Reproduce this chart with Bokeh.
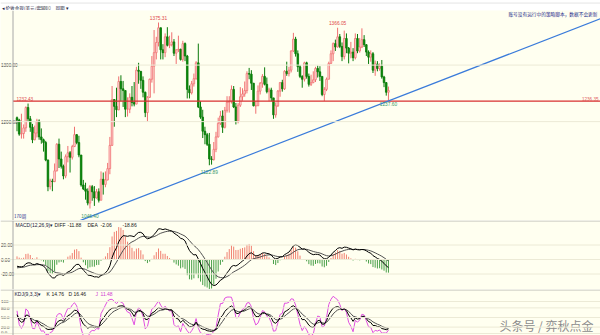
import numpy as np
from bokeh.plotting import figure
from bokeh.layouts import column
from bokeh.models import Range1d, Span, ColumnDataSource
from bokeh.core.properties import value
from bokeh.embed import file_html
from bokeh.resources import INLINE

# ---------------- data (weekly gold) ----------------
opens = [1207,1203,1178,1179,1189,1225,1205,1190,1168,1180,1201,1173,1168,1163,1132,1085,1095,1094,1113,1160,
         1134,1121,1104,1138,1145,1137,1156,1177,1163,1141,1088,1081,1077,1056,1085,1076,1065,1076,
         1061,1098,1089,1097,1117,1158,1239,1227,1221,1271,1258,1255,1222,1222,1243,1234,1231,1291,1289,1273,
         1252,1216,1243,1275,1298,1322,1340,1366,1327,1322,1350,1335,1336,1341,1321,1327,1328,1310,1338,1316,
         1257,1251,1267,1276,1304,1226,1208,1183,1177,1160,1134,1133,
         1151,1173,1197,1210,1190,1220,1234,1236,1257,1226,1201,1229,1244,1249,1255,1285,1284,1268,1228,1228,
         1254,1268,1280,1266,1253,1256,1242,1212,1228,1254,1269,1258,1289,1285,1291,1325,1346,1320,1297,1280,
         1275,1304,1280,1266,1269,1274,1294,1288,1280,1248,1257,1275,
         1303,1320,1338,1332,1350,1333,1315,1347,1330,1321,1323,1313,1347,1325,1332,1345,1336,1323,1314,1320,
         1291,1302,1294,1298,1279,1269,1252]
highs = [1209,1205,1214,1195,1227,1232,1210,1196,1193,1205,1204,1188,1170,1166,1133,1099,1099,1126,1162,1170,
         1147,1124,1142,1157,1148,1159,1191,1178,1175,1141,1097,1092,1082,1088,1088,1086,1081,1082,
         1112,1110,1112,1127,1173,1263,1240,1260,1280,1282,1272,1255,1243,1250,1263,1270,1297,1304,1289,1280,
         1253,1245,1276,1316,1362,1350,1375.31,1366,1337,1356,1367,1352,1358,1346,1328,1352,1329,1343,1340,1318,
         1264,1272,1285,1307,1338,1236,1221,1191,1180,1180,1139,1164,
         1182,1207,1219,1220,1226,1245,1245,1264,1263,1233,1233,1261,1259,1271,1289,1295,1291,1268,1236,1264,
         1270,1284,1296,1278,1260,1260,1242,1234,1256,1270,1274,1291,1306,1297,1326,1357,1350,1326,1300,1282,
         1306,1306,1285,1283,1289,1297,1299,1298,1280,1261,1278,1306,
         1326,1340,1345,1366.05,1355,1340,1361,1356,1332,1341,1330,1356,1355,1348,1365,1353,1337,1326,1326,1323,
         1308,1307,1303,1309,1281,1270,1262]
lows = [1183,1175,1170,1170,1182,1200,1182,1162,1167,1172,1168,1161,1147,1130,1077,1080,1077,1093,1112,1118,
        1117,1098,1100,1128,1110,1133,1155,1160,1137,1085,1079,1062,1052,1046.40,1060,1051,1064,1057,
        1061,1071,1084,1096,1107,1157,1191,1208,1220,1236,1226,1208,1209,1215,1227,1227,1231,1267,1258,1243,
        1208,1200,1242,1269,1250,1310,1333,1310,1310,1314,1333,1330,1333,1316,1302,1323,1308,1306,1307,1241,
        1241,1248,1262,1274,1224,1205,1171,1160,1157,1122.89,1124,1131,
        1146,1172,1194,1180,1188,1216,1216,1232,1224,1195,1197,1226,1237,1244,1250,1275,1256,1227,1214,1228,
        1248,1260,1264,1250,1236,1236,1205,1207,1226,1244,1253,1256,1281,1280,1287,1323,1315,1288,1277,1260,
        1271,1276,1262,1263,1268,1270,1278,1272,1245,1236.5,1254,1275,
        1302,1307,1325,1331,1330,1307,1310,1321,1303,1312,1307,1310,1321,1322,1330,1332,1316,1302,1306,1286,
        1281,1289,1290,1276,1261,1246,1237.60]
closes = [1203,1178,1179,1189,1225,1205,1190,1168,1180,1201,1173,1168,1163,1132,1085,1095,1094,1113,1160,1134,
          1121,1104,1138,1145,1137,1156,1177,1163,1141,1088,1081,1077,1056,1085,1076,1065,1076,1061,
          1098,1089,1097,1117,1158,1239,1227,1221,1271,1258,1255,1222,1222,1243,1234,1231,1291,1289,1273,1252,
          1216,1243,1275,1298,1322,1340,1366,1327,1322,1350,1335,1336,1341,1321,1327,1328,1310,1338,1316,1257,
          1251,1267,1276,1304,1226,1208,1183,1177,1160,1134,1133,1151,
          1173,1197,1210,1190,1220,1234,1236,1257,1226,1201,1229,1244,1249,1255,1285,1284,1268,1228,1228,1254,
          1268,1280,1266,1253,1256,1242,1212,1228,1254,1269,1258,1289,1285,1291,1325,1346,1320,1297,1280,1275,
          1304,1280,1266,1269,1274,1294,1288,1280,1248,1257,1275,1303,
          1320,1338,1332,1350,1333,1315,1347,1330,1321,1323,1313,1347,1325,1332,1345,1336,1323,1314,1320,1291,
          1302,1294,1298,1279,1269,1252,1255]

support_level = 1236.35            # red horizontal line
trend_x = [26.5, 263.9]            # blue trend line (bar index)
trend_y = [1022.0, 1382.0]         # blue trend line (price)
macd_start = [-11.0, -12.0]        # DIFF / DEA at the left edge
price_ticks = [1300, 1200]
price_tick_labels = ["1300.00", "1200.00"]
macd_ticks = [20, 0, -20]
macd_tick_labels = ["20.00", "0.00", "-20.00"]
kdj_ticks = [100, 80, 50, 20, 0]
kdj_tick_labels = ["100", "80.0", "50.0", "20.0", "0.0"]

o = np.array(opens, float); h = np.array(highs, float)
l = np.array(lows, float); c = np.array(closes, float)
n = len(c)
idx = np.arange(n)

# ---------------- indicators ----------------
def ema_series(vals, alpha, start):
    out = []; e = start
    for v in vals:
        e = alpha * v + (1 - alpha) * e
        out.append(e)
    return np.array(out)

e12 = ema_series(c, 2 / 13, c[0] + macd_start[0])
e26 = ema_series(c, 2 / 27, c[0])
diff = e12 - e26
dea = ema_series(diff, 2 / 10, macd_start[1])
hist = 2 * (diff - dea)

K = []; D = []; kk = 50.0; dd = 50.0
for i in range(n):
    lo = l[max(0, i - 8):i + 1].min(); hi = h[max(0, i - 8):i + 1].max()
    rsv = (c[i] - lo) / (hi - lo) * 100 if hi > lo else 50
    kk = 2 / 3 * kk + rsv / 3
    dd = 2 / 3 * dd + kk / 3
    K.append(kk); D.append(dd)
K = np.array(K); D = np.array(D); J = 3 * K - 2 * D

# ---------------- geometry ----------------
BG = "#FFFFF0"
X0 = 16.5
DX = 2.211
def px2x(px):
    return (px - X0) / DX
xr = Range1d(px2x(0), px2x(600))

KM = (1375.31 - 1046.40) / 186.0
def py2p(py):
    return 1375.31 - (py - 22) * KM
def py2m(py):
    return (259 - py) * 40.0 / 29.0
def py2k(py):
    return (333 - py) * 100.0 / 32.0

def mkfig(hgt, y0, y1, xrange=xr, bg=BG):
    p = figure(width=600, height=hgt, x_range=xrange, y_range=Range1d(y0, y1),
               output_backend="svg", toolbar_location=None,
               x_axis_location=None, y_axis_location=None,
               background_fill_color=bg, border_fill_color=bg,
               outline_line_color=None, min_border=0)
    p.xgrid.visible = False
    p.ygrid.visible = False
    return p

NUMF = "Liberation Sans"
CJK = "Noto Sans CJK SC"

def txt(p, x, y, s, color, size="5px", align="left", font=NUMF, baseline="middle"):
    p.text(x=[x], y=[y], text=[s], text_color=color, text_font=value(font),
           text_font_size=size, text_align=align, text_baseline=baseline)

# ---------------- header ----------------
ph = mkfig(10, 0, 10, xrange=Range1d(0, 600), bg="#FFFFFF")
ph.add_layout(Span(location=0.5, dimension="width", line_color="#B4B4B4", line_width=1))
ph.add_layout(Span(location=9.6, dimension="width", line_color="#D8D8D8", line_width=1))
txt(ph, 1, 5, "◂ 伦敦金现(美元/盎司)", "#202040", size="4.6px", font=CJK)
txt(ph, 40, 5, "5000", "#808080", size="4.6px")
txt(ph, 55, 5, "周期 ▾", "#202040", size="4.6px", font=CJK)

# ---------------- main price panel ----------------
pm = mkfig(210, py2p(220), py2p(10))
for t in price_ticks:
    pm.add_layout(Span(location=t, dimension="width", line_color="#ECEAD6", line_width=1))
pm.add_layout(Span(location=px2x(12.5), dimension="height", line_color="#A8A8A8", line_width=1))

up = c >= o
src = ColumnDataSource(dict(
    x=idx, hi=h, lo=l,
    top=np.maximum(o, c), bot=np.minimum(o, c),
    lc=np.where(up, "#F07070", "#0A7A0A"),
    fc=np.where(up, "#FFE8E8", "#0A8A0A"),
))
pm.segment(x0="x", y0="lo", x1="x", y1="hi", line_color="lc", line_width=1, source=src)
pm.vbar(x="x", width=0.72, top="top", bottom="bot", fill_color="fc", line_color="lc",
        line_width=0.8, source=src)

pm.segment(x0=[px2x(12.5)], y0=[support_level], x1=[px2x(600)], y1=[support_level],
           line_color="#D83030", line_width=1.2)
pm.line(trend_x, trend_y, line_color="#3A7BDA", line_width=1.3)

for t, s in zip(price_ticks, price_tick_labels):
    txt(pm, px2x(0.5), t, s, "#404040", size="4.6px", align="left")

txt(pm, px2x(16), support_level + 1.6 * KM, "1232.43", "#E04848", size="4.6px")
txt(pm, px2x(598), support_level + 1.6 * KM, "%.2f" % support_level, "#E06060", size="4.6px", align="right")

imax = int(np.argmax(h)); imin = int(np.argmin(l))
txt(pm, imax, h[imax] + 5 * KM, "%.2f" % h[imax], "#E04848", size="4.8px", align="center")
i2 = 145
txt(pm, i2, h[i2] + 5 * KM, "%.2f" % h[i2], "#E04848", size="4.8px", align="center")
txt(pm, imin, l[imin] - 7 * KM, "%.2f" % l[imin], "#3A9A6A", size="4.8px", align="center")
i3 = 87
txt(pm, i3, l[i3] - 7 * KM, "%.2f" % l[i3], "#3A9A6A", size="4.8px", align="center")
txt(pm, n - 1, l[n - 1] - 4 * KM, "%.2f" % l[n - 1], "#3A9A6A", size="4.8px", align="center")

txt(pm, px2x(597), py2p(13.5), "账号没有运行中的策略脚本，数据不会更新", "#1E2A8A", size="4.7px",
    align="right", font=CJK)
txt(pm, px2x(13.5), py2p(215.5), "170周", "#1E2A8A", size="4.6px", font=CJK)

# ---------------- MACD panel ----------------
pmac = mkfig(69, py2m(289), py2m(220))
pmac.add_layout(Span(location=py2m(220.5), dimension="width", line_color="#BDBDB5", line_width=1))
for t in macd_ticks:
    pmac.add_layout(Span(location=t, dimension="width", line_color="#ECEAD6", line_width=1))
pmac.add_layout(Span(location=px2x(12.5), dimension="height", line_color="#A8A8A8", line_width=1))
hcol = np.where(hist >= 0, "#F08070", "#4AA04A")
pmac.segment(x0=idx, y0=np.zeros(n), x1=idx, y1=hist, line_color=list(hcol), line_width=1)
pmac.line(idx, dea, line_color="#505050", line_width=1)
pmac.line(idx, diff, line_color="#000000", line_width=1)
for t, s in zip(macd_ticks, macd_tick_labels):
    txt(pmac, px2x(0.5), t, s, "#404040", size="4.6px", align="left")
yh = py2m(224)
txt(pmac, px2x(15), yh, "MACD(12,26,9)▾", "#202040")
txt(pmac, px2x(54), yh, "DIFF", "#202020")
txt(pmac, px2x(67), yh, "-11.88", "#202020")
txt(pmac, px2x(87), yh, "DEA", "#202020")
txt(pmac, px2x(100), yh, "-2.06", "#202020")
txt(pmac, px2x(122), yh, "-18.86", "#202020")

# ---------------- KDJ panel ----------------
pk = mkfig(46, py2k(335), py2k(289))
pk.add_layout(Span(location=py2k(289.5), dimension="width", line_color="#BDBDB5", line_width=1))
for t in kdj_ticks:
    pk.add_layout(Span(location=t, dimension="width", line_color="#ECEAD6", line_width=1))
pk.add_layout(Span(location=px2x(12.5), dimension="height", line_color="#A8A8A8", line_width=1))
pk.line(idx, J, line_color="#E050E0", line_width=1)
pk.line(idx, D, line_color="#505050", line_width=1)
pk.line(idx, K, line_color="#000000", line_width=1)
kdj_label_py = [301, 308, 317, 326.5, 331.5]
for py, s in zip(kdj_label_py, kdj_tick_labels):
    txt(pk, px2x(0.5), py2k(py), s, "#404040", size="4.4px", align="left")
yk = py2k(293)
txt(pk, px2x(14), yk, "KDJ(9,3,3)▾", "#202040")
txt(pk, px2x(46), yk, "K", "#202020")
txt(pk, px2x(51), yk, "14.76", "#202020")
txt(pk, px2x(68), yk, "D", "#202020")
txt(pk, px2x(73), yk, "16.46", "#202020")
txt(pk, px2x(95), yk, "J", "#D040D0")
txt(pk, px2x(100), yk, "11.48", "#D040D0")
txt(pk, px2x(593), py2k(325), "头条号 / 弈秋点金", "#8C8C8C", size="12px", align="right", font=CJK)

layout = column(ph, pm, pmac, pk, spacing=0)
open("out.html", "w").write(file_html(layout, INLINE))
